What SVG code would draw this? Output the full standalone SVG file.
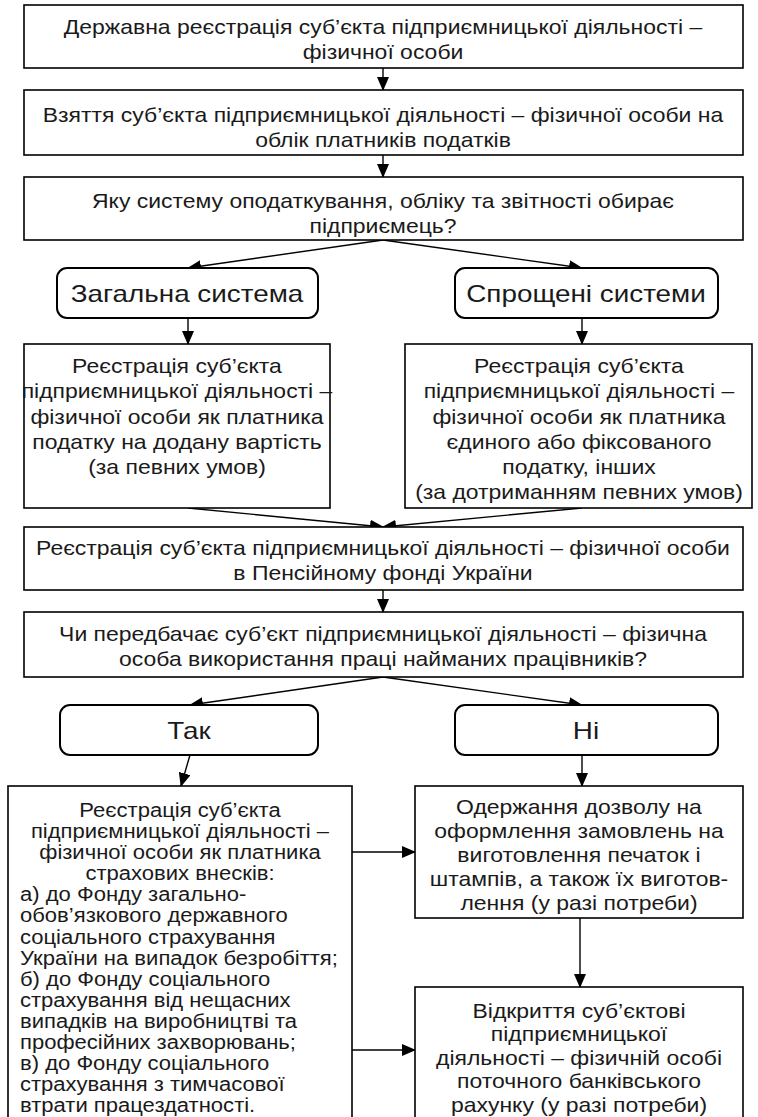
<svg xmlns="http://www.w3.org/2000/svg" width="758" height="1117" viewBox="0 0 758 1117">
  <defs>
    <marker id="arrow" markerUnits="userSpaceOnUse" markerWidth="14" markerHeight="12" viewBox="0 0 14 12" refX="13" refY="6" orient="auto">
      <path d="M0,0 L14,6 L0,12 Z" fill="#000"/>
    </marker>
    <style>
      .box { fill: #fff; stroke: #000; stroke-width: 1.6; }
      .rbox { fill: #fff; stroke: #000; stroke-width: 2; }
      .t { font-family: "Liberation Sans", Arial, sans-serif; font-size: 20.5px; fill: #1a1a1a; text-anchor: middle; }
      .ts { font-family: "Liberation Sans", Arial, sans-serif; font-size: 19.5px; fill: #1a1a1a; text-anchor: middle; }
      .tl { font-family: "Liberation Sans", Arial, sans-serif; font-size: 19.5px; fill: #1a1a1a; text-anchor: start; }
      .tb { font-family: "Liberation Sans", Arial, sans-serif; font-size: 24px; fill: #1a1a1a; text-anchor: middle; }
      .con { fill: none; stroke: #000; stroke-width: 1.4; marker-end: url(#arrow); }
    </style>
  </defs>
  <rect width="758" height="1117" fill="#fff"/>

  <!-- connectors -->
  <g id="connectors">
    <line class="con" x1="383" y1="68" x2="383" y2="90"/>
    <line class="con" x1="383" y1="155" x2="383" y2="177"/>
    <line class="con" x1="383" y1="240" x2="188" y2="268"/>
    <line class="con" x1="383" y1="240" x2="582" y2="268"/>
    <line class="con" x1="188" y1="318" x2="188" y2="344"/>
    <line class="con" x1="582" y1="318" x2="582" y2="344"/>
    <line class="con" x1="188" y1="508" x2="383" y2="527"/>
    <line class="con" x1="582" y1="508" x2="383" y2="527"/>
    <line class="con" x1="383" y1="590" x2="383" y2="612"/>
    <line class="con" x1="383" y1="677" x2="190" y2="705"/>
    <line class="con" x1="383" y1="677" x2="582" y2="705"/>
    <line class="con" x1="190" y1="755" x2="181" y2="786"/>
    <line class="con" x1="582" y1="755" x2="582" y2="786"/>
    <line class="con" x1="352" y1="852" x2="415" y2="852"/>
    <line class="con" x1="580" y1="918" x2="580" y2="987"/>
    <line class="con" x1="352" y1="1050" x2="415" y2="1050"/>
  </g>

  <g id="n-state-registration">
    <rect class="box" x="24" y="5" width="719" height="63"/>
    <text class="t" transform="matrix(1.12 0 0 1 383 0)"><tspan x="0" y="34">Державна реєстрація суб’єкта підприємницької діяльності –</tspan><tspan x="0" y="59">фізичної особи</tspan></text>
  </g>

  <g id="n-tax-account">
    <rect class="box" x="24" y="90" width="719" height="65"/>
    <text class="t" transform="matrix(1.12 0 0 1 383 0)"><tspan x="0" y="122">Взяття суб’єкта підприємницької діяльності – фізичної особи на</tspan><tspan x="0" y="147">облік платників податків</tspan></text>
  </g>

  <g id="n-system-choice">
    <rect class="box" x="24" y="177" width="719" height="63"/>
    <text class="t" transform="matrix(1.12 0 0 1 383 0)"><tspan x="0" y="208">Яку систему оподаткування, обліку та звітності обирає</tspan><tspan x="0" y="233">підприємець?</tspan></text>
  </g>

  <g id="n-general">
    <rect class="rbox" x="57" y="268" width="261" height="50" rx="10"/>
    <text class="tb" transform="matrix(1.16 0 0 1 187 0)"><tspan x="0" y="302">Загальна система</tspan></text>
  </g>

  <g id="n-simplified">
    <rect class="rbox" x="455" y="268" width="263" height="50" rx="10"/>
    <text class="tb" transform="matrix(1.16 0 0 1 586 0)"><tspan x="0" y="302">Спрощені системи</tspan></text>
  </g>

  <g id="n-vat">
    <rect class="box" x="24" y="344" width="306" height="164"/>
    <text class="t" transform="matrix(1.12 0 0 1 177 0)"><tspan x="0" y="373">Реєстрація суб’єкта</tspan><tspan x="0" y="398">підприємницької діяльності –</tspan><tspan x="0" y="424">фізичної особи як платника</tspan><tspan x="0" y="449">податку на додану вартість</tspan><tspan x="0" y="474">(за певних умов)</tspan></text>
  </g>

  <g id="n-single-tax">
    <rect class="box" x="405" y="344" width="347" height="164"/>
    <text class="t" transform="matrix(1.12 0 0 1 579 0)"><tspan x="0" y="373">Реєстрація суб’єкта</tspan><tspan x="0" y="398">підприємницької діяльності –</tspan><tspan x="0" y="424">фізичної особи як платника</tspan><tspan x="0" y="449">єдиного або фіксованого</tspan><tspan x="0" y="474">податку, інших</tspan><tspan x="0" y="499">(за дотриманням певних умов)</tspan></text>
  </g>

  <g id="n-pension">
    <rect class="box" x="24" y="527" width="719" height="63"/>
    <text class="t" transform="matrix(1.12 0 0 1 383 0)"><tspan x="0" y="555">Реєстрація суб’єкта підприємницької діяльності – фізичної особи</tspan><tspan x="0" y="580">в Пенсійному фонді України</tspan></text>
  </g>

  <g id="n-employees">
    <rect class="box" x="24" y="612" width="719" height="65"/>
    <text class="t" transform="matrix(1.12 0 0 1 383 0)"><tspan x="0" y="641">Чи передбачає суб’єкт підприємницької діяльності – фізична</tspan><tspan x="0" y="666">особа використання праці найманих працівників?</tspan></text>
  </g>

  <g id="n-yes">
    <rect class="rbox" x="60" y="705" width="258" height="50" rx="10"/>
    <text class="tb" transform="matrix(1.16 0 0 1 189 0)"><tspan x="0" y="739">Так</tspan></text>
  </g>

  <g id="n-no">
    <rect class="rbox" x="455" y="705" width="263" height="50" rx="10"/>
    <text class="tb" transform="matrix(1.16 0 0 1 586 0)"><tspan x="0" y="739">Ні</tspan></text>
  </g>

  <g id="n-insurance">
    <rect class="box" x="8" y="786" width="344" height="340"/>
    <text class="ts" transform="matrix(1.13 0 0 1 180 0)"><tspan x="0" y="817">Реєстрація суб’єкта</tspan><tspan x="0" y="838">підприємницької діяльності –</tspan><tspan x="0" y="859">фізичної особи як платника</tspan><tspan x="0" y="880">страхових внесків:</tspan></text>
    <text class="tl" transform="matrix(1.13 0 0 1 20 0)"><tspan x="0" y="901">а) до Фонду загально-</tspan><tspan x="0" y="922">обов’язкового державного</tspan><tspan x="0" y="944">соціального страхування</tspan><tspan x="0" y="965">України на випадок безробіття;</tspan><tspan x="0" y="986">б) до Фонду соціального</tspan><tspan x="0" y="1007">страхування від нещасних</tspan><tspan x="0" y="1028">випадків на виробництві та</tspan><tspan x="0" y="1049">професійних захворювань;</tspan><tspan x="0" y="1070">в) до Фонду соціального</tspan><tspan x="0" y="1091">страхування з тимчасової</tspan><tspan x="0" y="1112">втрати працездатності.</tspan></text>
  </g>

  <g id="n-stamps">
    <rect class="box" x="415" y="786" width="328" height="132"/>
    <text class="t" transform="matrix(1.12 0 0 1 579 0)"><tspan x="0" y="814">Одержання дозволу на</tspan><tspan x="0" y="838">оформлення замовлень на</tspan><tspan x="0" y="862">виготовлення печаток і</tspan><tspan x="0" y="886">штампів, а також їх виготов-</tspan><tspan x="0" y="910">лення (у разі потреби)</tspan></text>
  </g>

  <g id="n-bank-account">
    <rect class="box" x="415" y="987" width="328" height="140"/>
    <text class="t" transform="matrix(1.12 0 0 1 579 0)"><tspan x="0" y="1018">Відкриття суб’єктові</tspan><tspan x="0" y="1041">підприємницької</tspan><tspan x="0" y="1065">діяльності – фізичній особі</tspan><tspan x="0" y="1088">поточного банківського</tspan><tspan x="0" y="1112">рахунку (у разі потреби)</tspan></text>
  </g>
</svg>
